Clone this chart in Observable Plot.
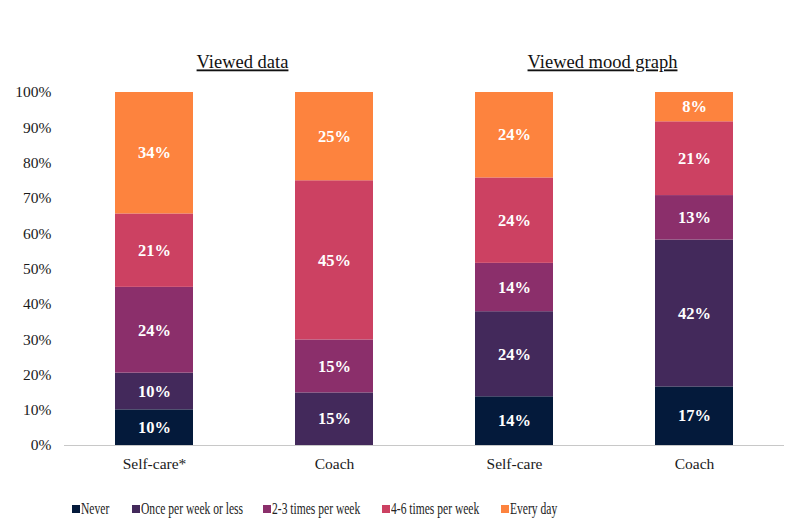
<!DOCTYPE html>
<html>
<head>
<meta charset="utf-8">
<script src="https://cdn.jsdelivr.net/npm/d3@7"></script>
<script src="https://cdn.jsdelivr.net/npm/@observablehq/plot@0.6"></script>
<style>
  body { margin: 0; background: #fff; font-family: "Liberation Serif", serif; }
  #chart { position: relative; width: 790px; height: 528px; }
  #legend { position: absolute; left: 0; top: 490px; width: 790px; height: 38px; font-size: 17px; color: #222; }
  .item { position: absolute; top: 9px; display: flex; align-items: center; white-space: nowrap; }
  .sw { width: 8px; height: 8px; margin-right: 1px; flex: none; }
  .lab { display: inline-block; transform: scaleX(0.68); transform-origin: left center; }
</style>
</head>
<body>
<div id="chart"></div>
<script>
// ---- data ----
const groups = ["Viewed data", "Viewed data", "Viewed mood graph", "Viewed mood graph"];
const barLabels = ["Self-care*", "Coach", "Self-care", "Coach"];
const frequencies = ["Never", "Once per week or less", "2-3 times per week", "4-6 times per week", "Every day"];
const never       = [10.1, 0,    13.8, 16.6];
const oncePerWeek = [10.4, 14.9, 24.1, 41.6];
const twoThree    = [24.3, 15.0, 13.7, 12.6];
const fourSix     = [20.8, 45.1, 24.2, 20.9];
const everyDay    = [34.4, 25.0, 24.2, 8.3];
const colors = ["#041a3b", "#43295b", "#8b2f6b", "#cc4162", "#fd833e"];
const panelTitles = ["Viewed data", "Viewed mood graph"];
const panelFirstBar = [0, 2];
const yTicks = [0, 10, 20, 30, 40, 50, 60, 70, 80, 90, 100];
const legendLeft = [72, 132, 263, 382, 501];

// ---- table ----
const series = [never, oncePerWeek, twoThree, fourSix, everyDay];
const rows = [];
barLabels.forEach((_, i) => {
  frequencies.forEach((f, k) => {
    rows.push({bar: i, group: groups[i], freq: f, value: series[k][i]});
  });
});
const titleRows = panelTitles.map((t, j) => ({title: t, bar: panelFirstBar[j]}));

const plot = Plot.plot({
  width: 790,
  height: 490,
  marginTop: 92,
  marginBottom: 45,
  marginLeft: 64,
  marginRight: 6,
  style: {fontFamily: "'Liberation Serif', serif", fontSize: "15.5px", color: "#1a1a1a", background: "#fff"},
  x: {domain: [0, 1, 2, 3], paddingInner: 0.567, paddingOuter: 0.2835, label: null,
      tickFormat: i => barLabels[i], tickSize: 0, tickPadding: 12},
  y: {domain: [0, 100], ticks: yTicks, tickFormat: d => d + "%", label: null, tickSize: 0, tickPadding: 13},
  color: {domain: frequencies, range: colors},
  marks: [
    Plot.barY(rows, {x: "bar", y: "value", fill: "freq", order: frequencies}),
    Plot.ruleY([0], {stroke: "#c8c8c8", strokeWidth: 1}),
    Plot.text(rows, Plot.stackY({
      filter: d => d.value > 0,
      x: "bar", y: "value", z: "freq", order: frequencies,
      text: d => Math.round(d.value) + "%",
      fill: "white", fontWeight: "bold", fontSize: 16.5
    })),
    Plot.text(titleRows, {
      x: "bar", y: () => 100, text: "title", dx: 88, dy: -30,
      fontSize: 18.5, fill: "#111"
    })
  ]
});
d3.select(plot).selectAll("text")
  .filter(function() { return panelTitles.includes(this.textContent); })
  .style("text-decoration", "underline");
document.getElementById("chart").appendChild(plot);

// legend
const legend = document.createElement("div");
legend.id = "legend";
frequencies.forEach((f, k) => {
  const item = document.createElement("div");
  item.className = "item";
  item.style.left = legendLeft[k] + "px";
  const sw = document.createElement("span");
  sw.className = "sw";
  sw.style.background = colors[k];
  const lab = document.createElement("span");
  lab.className = "lab";
  lab.textContent = f;
  item.appendChild(sw);
  item.appendChild(lab);
  legend.appendChild(item);
});
document.getElementById("chart").appendChild(legend);
</script>
</body>
</html>
